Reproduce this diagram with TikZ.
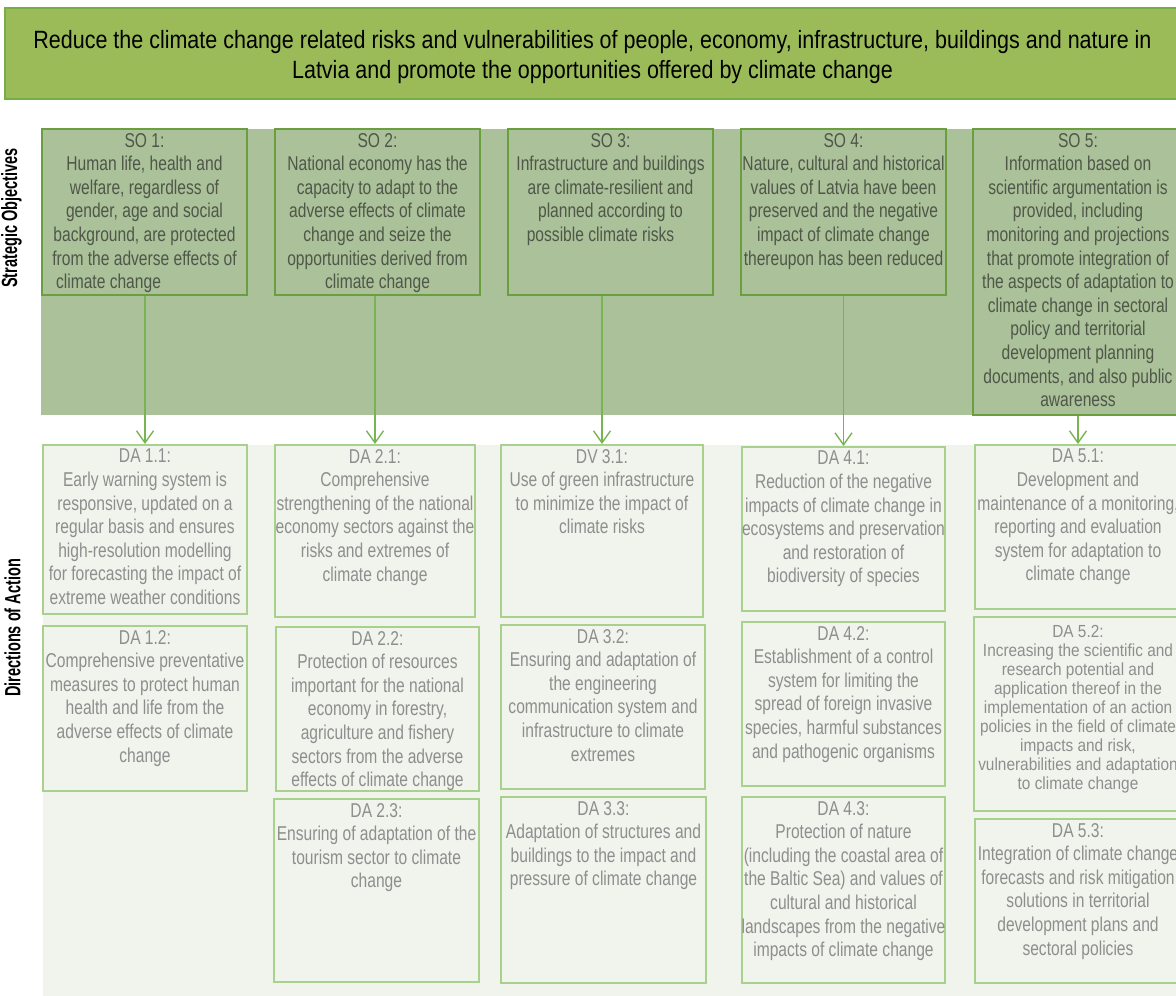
\documentclass[tikz,border=0pt]{standalone}
\usepackage{fontspec}
\setmainfont{Liberation Sans}[FakeStretch=0.78]
\newfontfamily\titlefont{Liberation Sans}[FakeStretch=0.86]
\newfontfamily\sidefont{Liberation Sans}[FakeStretch=0.66]
\newfontfamily\tightfont{Liberation Sans}[FakeStretch=0.88]
\usetikzlibrary{arrows.meta}

\definecolor{titlefill}{HTML}{9BBB59}
\definecolor{titleline}{HTML}{77AD47}
\definecolor{soband}{HTML}{AAC19A}
\definecolor{soline}{HTML}{6B9E3E}
\definecolor{sotext}{HTML}{4F5748}
\definecolor{arrowgreen}{HTML}{78B451}
\definecolor{daband}{HTML}{F1F4EC}
\definecolor{daline}{HTML}{A9D18E}
\definecolor{datext}{HTML}{8E8E8E}

\begin{document}
\begin{tikzpicture}
	[x=1pt,y=-1pt,every node/.style={inner sep=0pt},
	 sobox/.style={draw=soline,line width=2.2pt,minimum width=205pt,minimum height=166pt},
	 dabox/.style={draw=daline,line width=2pt,minimum width=204pt},
	 sotxt/.style={anchor=north,align=center,text=sotext,yshift=-5pt,
	   font=\fontsize{20}{23.6}\selectfont},
	 datxt/.style={sotxt,text=datext},
	 sidelbl/.style={rotate=90,font=\sidefont\bfseries\fontsize{22}{24}\selectfont},
	 flow/.style={draw=arrowgreen,line width=1.4pt,-{Straight Barb[length=12pt,width=17pt]}}]
	\useasboundingbox (0,0) rectangle (1176,996);
	\clip (0,0) rectangle (1176,996);

	% bands
	\fill[soband] (41,129) rectangle (1190,415);
	\fill[daband] (43,445) rectangle (1190,996);

	% goal
	\node[draw=titleline,fill=titlefill,line width=2pt,minimum width=1175pt,minimum height=91pt] (goal) at (592.5,53.5) {};
	\node[align=center,font=\titlefont\fontsize{25}{30}\selectfont] (goalt) at ([yshift=-4pt]goal.center)
	  {Reduce the climate change related risks and vulnerabilities of people, economy, infrastructure, buildings and nature in\\
	   Latvia and promote the opportunities offered by climate change};

	\node[sidelbl] (solbl) at (11.5,218) {Strategic Objectives};
	\node[sidelbl] (dalbl) at (12.5,628) {Directions of Action};

	% strategic objectives
	\node[sobox] (so1) at (144.5,212) {};
	\node[sotxt] (so1t) at (so1.north) {SO 1:\\Human life, health and\\welfare, regardless of\\gender, age and social\\background, are protected\\from the adverse effects of\\climate change\hspace*{72pt}};
	\node[sobox] (so2) at (377.5,212) {};
	\node[sotxt] (so2t) at (so2.north) {SO 2:\\National economy has the\\capacity to adapt to the\\adverse effects of climate\\change and seize the\\opportunities derived from\\climate change};
	\node[sobox] (so3) at (610.5,212) {};
	\node[sotxt] (so3t) at (so3.north) {SO 3:\\Infrastructure and buildings\\are climate-resilient and\\planned according to\\possible climate risks\hspace*{20pt}};
	\node[sobox] (so4) at (843.5,212) {};
	\node[sotxt] (so4t) at (so4.north) {SO 4:\\Nature, cultural and historical\\values of Latvia have been\\preserved and the negative\\impact of climate change\\thereupon has been reduced};
	\node[sobox,minimum width=210pt,minimum height=286pt] (so5) at (1078,272) {};
	\node[sotxt] (so5t) at (so5.north) {SO 5:\\Information based on\\scientific argumentation is\\provided, including\\monitoring and projections\\that promote integration of\\the aspects of adaptation to\\climate change in sectoral\\policy and territorial\\development planning\\documents, and also public\\awareness};

	% directions of action
	\node[dabox,minimum height=169pt] (da11) at (145,529.5) {};
	\node[datxt] (da11t) at (da11.north) {DA 1.1:\\Early warning system is\\responsive, updated on a\\regular basis and ensures\\high-resolution modelling\\for forecasting the impact of\\extreme weather conditions};
	\node[dabox,minimum height=165pt] (da12) at (145,708.5) {};
	\node[datxt] (da12t) at (da12.north) {DA 1.2:\\Comprehensive preventative\\measures to protect human\\health and life from the\\adverse effects of climate\\change};

	\node[dabox,minimum width=200pt,minimum height=172pt] (da21) at (375,531) {};
	\node[datxt] (da21t) at (da21.north) {DA 2.1:\\Comprehensive\\strengthening of the national\\economy sectors against the\\risks and extremes of\\climate change};
	\node[dabox,minimum width=203pt,minimum height=164pt] (da22) at (377.5,709) {};
	\node[datxt] (da22t) at (da22.north) {DA 2.2:\\Protection of resources\\important for the national\\economy in forestry,\\agriculture and fishery\\sectors from the adverse\\effects of climate change};
	\node[dabox,minimum width=205pt,minimum height=183pt] (da23) at (376.5,890.5) {};
	\node[datxt] (da23t) at (da23.north) {DA 2.3:\\Ensuring of adaptation of the\\tourism sector to climate\\change};

	\node[dabox,minimum width=202pt,minimum height=172pt] (da31) at (602,531) {};
	\node[datxt] (da31t) at (da31.north) {DV 3.1:\\Use of green infrastructure\\to minimize the impact of\\climate risks};
	\node[dabox,minimum height=164pt] (da32) at (603,707) {};
	\node[datxt] (da32t) at (da32.north) {DA 3.2:\\Ensuring and adaptation of\\the engineering\\communication system and\\infrastructure to climate\\extremes};
	\node[dabox,minimum width=205pt,minimum height=186pt] (da33) at (603.5,890) {};
	\node[datxt] (da33t) at (da33.north) {DA 3.3:\\Adaptation of structures and\\buildings to the impact and\\pressure of climate change};

	\node[dabox,minimum width=203pt,minimum height=164pt] (da41) at (843.5,529) {};
	\node[datxt] (da41t) at (da41.north) {DA 4.1:\\Reduction of the negative\\impacts of climate change in\\ecosystems and preservation\\and restoration of\\biodiversity of species};
	\node[dabox,minimum width=203pt,minimum height=164pt] (da42) at (843.5,704) {};
	\node[datxt] (da42t) at (da42.north) {DA 4.2:\\Establishment of a control\\system for limiting the\\spread of foreign invasive\\species, harmful substances\\and pathogenic organisms};
	\node[dabox,minimum width=203pt,minimum height=186pt] (da43) at (843.5,890) {};
	\node[datxt] (da43t) at (da43.north) {DA 4.3:\\Protection of nature\\(including the coastal area of\\the Baltic Sea) and values of\\cultural and historical\\landscapes from the negative\\impacts of climate change};

	\node[dabox,minimum width=206pt,minimum height=164pt] (da51) at (1078,527) {};
	\node[datxt] (da51t) at (da51.north) {DA 5.1:\\Development and\\maintenance of a monitoring,\\reporting and evaluation\\system for adaptation to\\climate change};
	\node[dabox,minimum width=208pt,minimum height=194pt] (da52) at (1078,714) {};
	\node[datxt,yshift=-4pt,font=\tightfont\fontsize{17.5}{19}\selectfont] (da52t) at (da52.north) {DA 5.2:\\Increasing the scientific and\\research potential and\\application thereof in the\\implementation of an action\\policies in the field of climate\\impacts and risk,\\vulnerabilities and adaptation\\to climate change};
	\node[dabox,minimum width=206pt,minimum height=164pt] (da53) at (1078,901) {};
	\node[datxt] (da53t) at (da53.north) {DA 5.3:\\Integration of climate change\\forecasts and risk mitigation\\solutions in territorial\\development plans and\\sectoral policies};

	\foreach \from/\to in {so1/da11,so2/da21,so3/da31,so4/da41,so5/da51}
		\draw[flow] (\to.north |- \from.south) -- (\to.north);
\end{tikzpicture}
\end{document}
